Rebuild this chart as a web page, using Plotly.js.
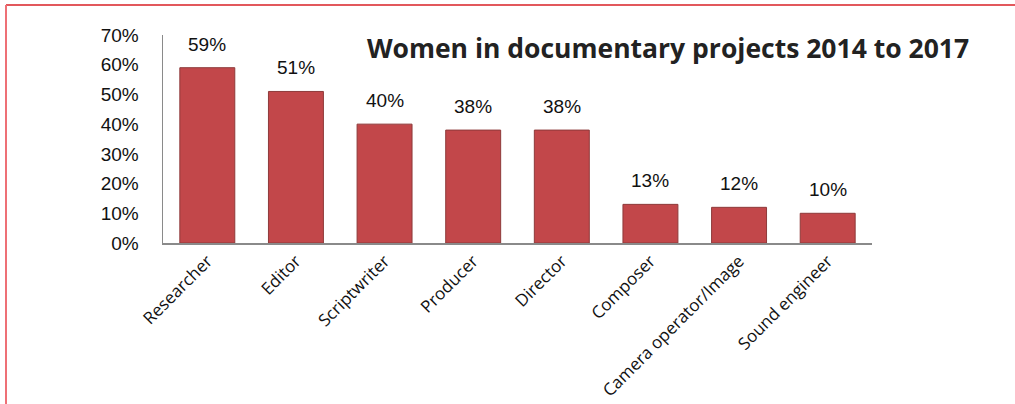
<!DOCTYPE html>
<html>
<head>
<meta charset="utf-8">
<script src="https://cdn.plot.ly/plotly-3.0.1.min.js"></script>
<style>html,body{margin:0;padding:0;background:#fff;}#chart{width:1015px;height:404px;}</style>
</head>
<body>
<div id="chart"></div>
<script>
const categories = ["Researcher", "Editor", "Scriptwriter", "Producer", "Director", "Composer", "Camera operator/Image", "Sound engineer"];
const shares = [59, 51, 40, 38, 38, 13, 12, 10];
const yTickVals = [0, 10, 20, 30, 40, 50, 60, 70];
const yTickText = ["0%", "10%", "20%", "30%", "40%", "50%", "60%", "70%"];
const chartTitle = "Women in documentary projects 2014 to 2017";

const L = 163, R = 143, T = 35, B = 161, W = 1015, H = 404;
const pw = W - L - R, ph = H - T - B;
const px = x => (x - L) / pw;
const py = y => (H - B - y) / ph;

const trace = {
  type: "bar",
  x: categories,
  y: shares,
  width: 0.62,
  marker: {color: "#c2474a", line: {color: "#8e3a3a", width: 1}},
  hoverinfo: "skip"
};

const annotations = categories.map((c, i) => ({
  x: c, y: shares[i], xref: "x", yref: "y",
  text: shares[i] + "%", showarrow: false,
  yanchor: "bottom", yshift: 11,
  font: {family: "Liberation Sans, Arial, sans-serif", size: 19, color: "#111"}
}));

const layout = {
  width: W, height: H,
  margin: {l: L, r: R, t: T, b: B, pad: 0},
  paper_bgcolor: "#fff", plot_bgcolor: "#fff",
  showlegend: false,
  title: {
    text: "<b>" + chartTitle + "</b>",
    x: 668 / W, xanchor: "center", xref: "container",
    y: 1 - 49 / H, yanchor: "middle", yref: "container",
    font: {family: "Open Sans, sans-serif", size: 26.5, color: "#222"}
  },
  xaxis: {
    type: "category",
    tickangle: -45,
    showline: true, linecolor: "#8a8a8a", linewidth: 1.5,
    ticks: "", showgrid: false, zeroline: false,
    tickfont: {family: "Open Sans, sans-serif", size: 17, color: "#111"}
  },
  yaxis: {
    range: [0, 70],
    tickvals: yTickVals, ticktext: yTickText,
    showline: true, linecolor: "#8a8a8a", linewidth: 1.5,
    ticks: "", showgrid: false, zeroline: false,
    ticklabelstandoff: 19,
    tickfont: {family: "Liberation Sans, Arial, sans-serif", size: 19, color: "#111"}
  },
  annotations: annotations,
  shapes: [
    {type: "line", xref: "paper", yref: "paper", x0: px(6), x1: px(1015), y0: py(5), y1: py(5), line: {color: "#e2585c", width: 2}},
    {type: "line", xref: "paper", yref: "paper", x0: px(6), x1: px(6), y0: py(5), y1: py(404), line: {color: "#ee7076", width: 2}}
  ]
};

Plotly.newPlot("chart", [trace], layout, {displayModeBar: false, staticPlot: true});
</script>
</body>
</html>
